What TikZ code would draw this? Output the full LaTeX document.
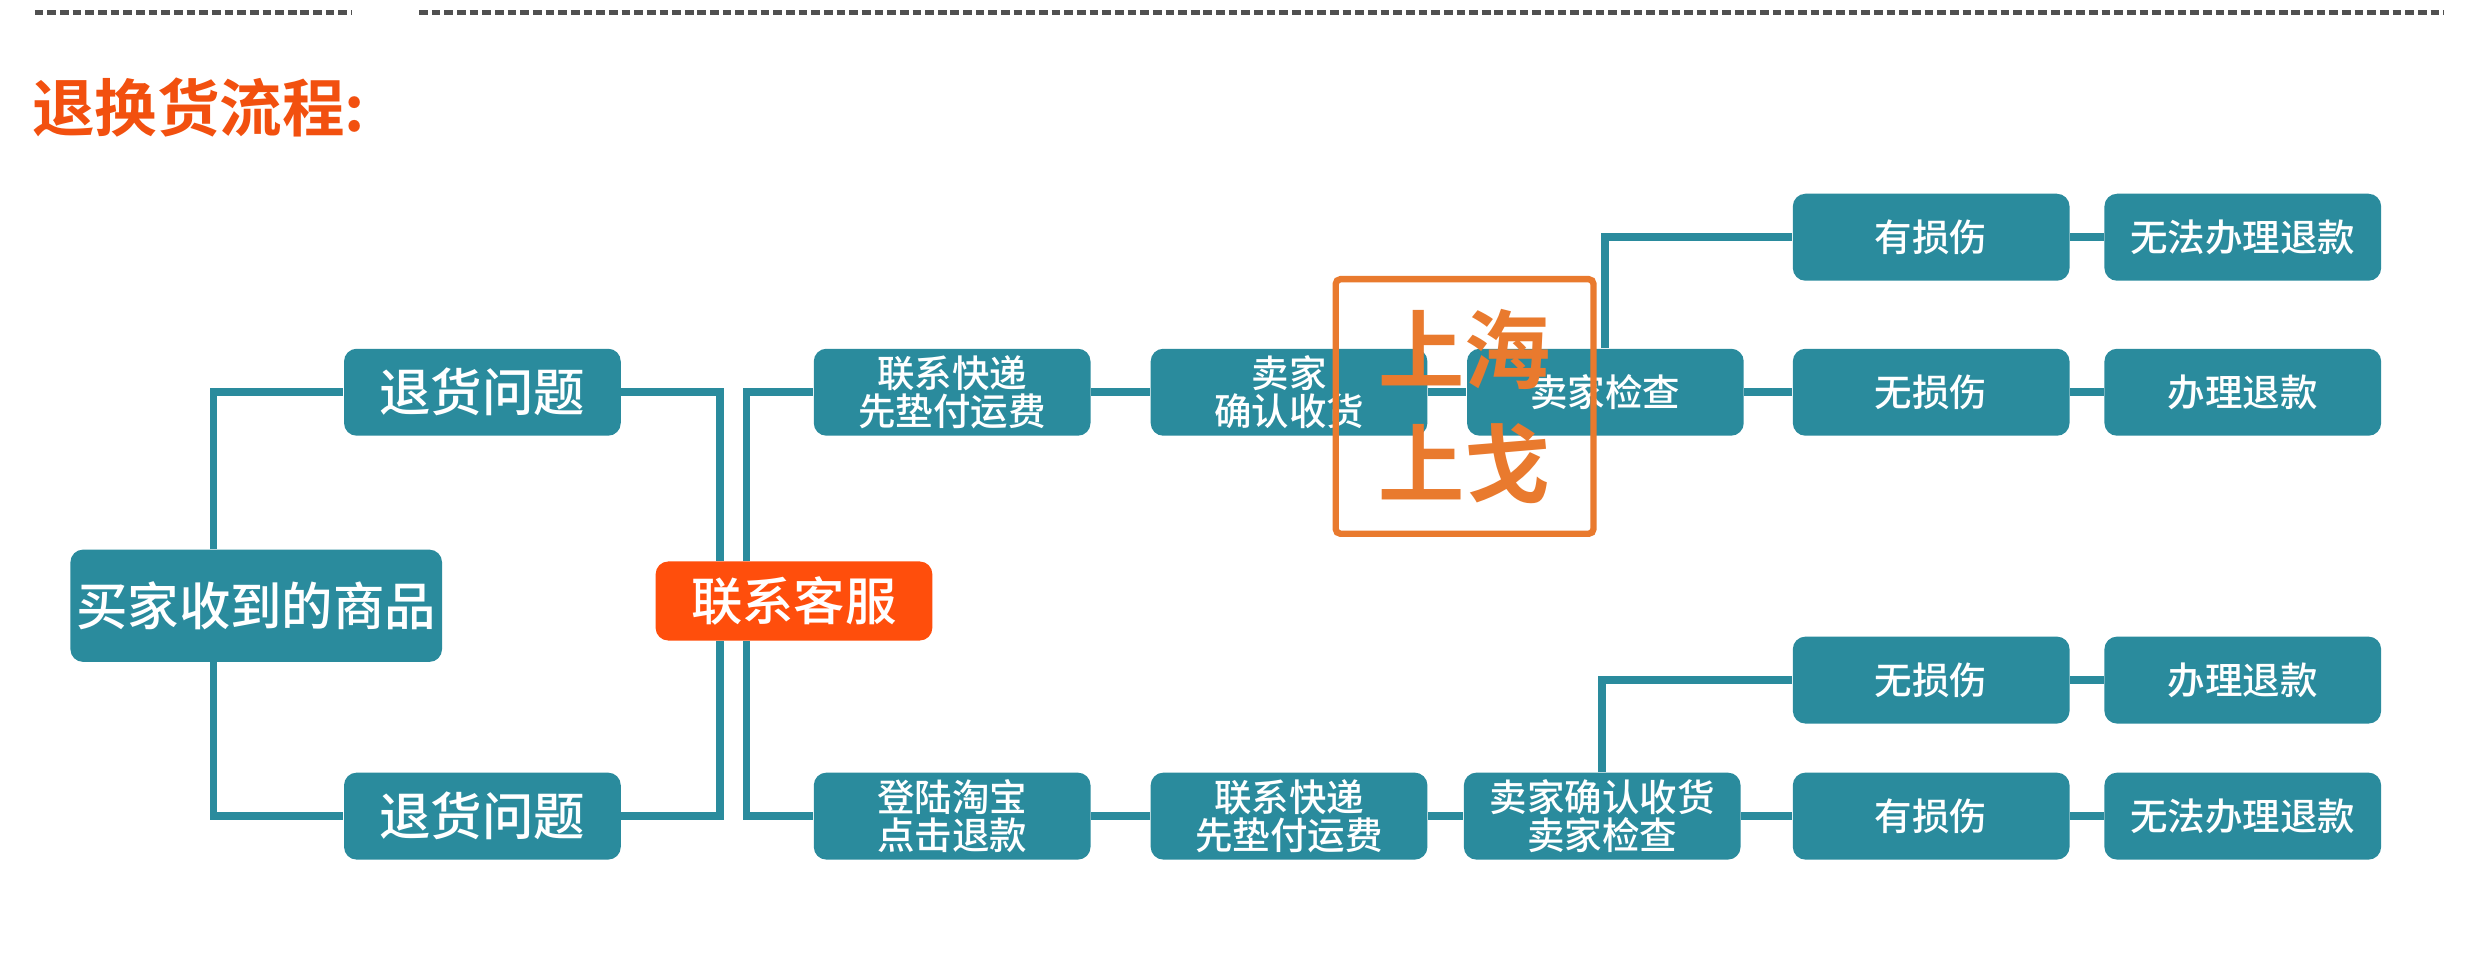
\documentclass[tikz,border=0pt]{standalone}
\usepackage{fontspec}
\setmainfont{Noto Sans CJK SC}[BoldFont={Noto Sans CJK SC Bold}]
\newfontfamily\medcjk{Noto Sans CJK SC Medium}
\definecolor{boxteal}{HTML}{2A8B9D}
\definecolor{svcred}{HTML}{FF4E0C}
\definecolor{titlered}{HTML}{F2500F}
\definecolor{sealor}{HTML}{E97A2E}
\definecolor{dashgray}{HTML}{505050}
\begin{document}
\begin{tikzpicture}[x=0.02cm,y=-0.02cm,
	box/.style={fill=boxteal,text=white,rounded corners=0.16cm,minimum width=3.5cm,minimum height=1.1cm,inner sep=0pt,align=center,font=\medcjk\fontsize{13.5}{13.5}\selectfont},
	bigbox/.style={box,font=\medcjk\fontsize{18.5}{20}\selectfont},
	link/.style={draw=boxteal,line width=2.8pt},
	dashline/.style={draw=dashgray,line width=2pt,dash pattern=on 0.11cm off 0.05cm}]
	\fill[white] (0,0) rectangle (1568,607);
	\draw[dashline] (22,8) -- (222,8);
	\draw[dashline] (265,8) -- (1545,8);
	\node[anchor=west,text=titlered,font=\fontsize{22.5}{24}\selectfont\bfseries,inner sep=0pt] (title) at (20,68) {退换货流程:};
	\node[bigbox,minimum width=4.7cm,minimum height=1.42cm] (buyer) at (162,383) {买家收到的商品};
	\node[bigbox] (retA) at (305,248) {退货问题};
	\node[bigbox] (retB) at (305,516) {退货问题};
	\node[bigbox,fill=svcred,minimum height=1.0cm] (svc) at (502,380) {联系客服};
	\node[box] (expA) at (602,248) {联系快递\\先垫付运费};
	\node[box] (confA) at (815,248) {卖家\\确认收货};
	\node[box] (chkA) at (1015,248) {卖家检查};
	\node[box] (hurtA) at (1221,150) {有损伤};
	\node[box] (failA) at (1418,150) {无法办理退款};
	\node[box] (okA) at (1221,248) {无损伤};
	\node[box] (refA) at (1418,248) {办理退款};
	\node[box] (loginB) at (602,516) {登陆淘宝\\点击退款};
	\node[box] (expB) at (815,516) {联系快递\\先垫付运费};
	\node[box] (chkB) at (1013,516) {卖家确认收货\\卖家检查};
	\node[box] (okB) at (1221,430) {无损伤};
	\node[box] (refB) at (1418,430) {办理退款};
	\node[box] (hurtB) at (1221,516) {有损伤};
	\node[box] (failB) at (1418,516) {无法办理退款};
	\draw[link] (buyer.north -| 135,0) |- (retA.west);
	\draw[link] (buyer.south -| 135,0) |- (retB.west);
	\draw[link] (retA.east) -| (svc.north -| 455,0);
	\draw[link] (retB.east) -| (svc.south -| 455,0);
	\draw[link] (svc.north -| 472,0) |- (expA.west);
	\draw[link] (svc.south -| 472,0) |- (loginB.west);
	\draw[link] (expA) -- (confA);
	\draw[link] (confA) -- (chkA);
	\draw[link] (chkA) -- (okA);
	\draw[link] (okA) -- (refA);
	\draw[link] (chkA.north) |- (hurtA.west);
	\draw[link] (hurtA) -- (failA);
	\draw[link] (loginB) -- (expB);
	\draw[link] (expB) -- (chkB);
	\draw[link] (chkB) -- (hurtB);
	\draw[link] (hurtB) -- (failB);
	\draw[link] (chkB.north) |- (okB.west);
	\draw[link] (okB) -- (refB);
	\node[draw=sealor,line width=2.3pt,rounded corners=0.06cm,text=sealor,minimum width=3.26cm,minimum height=3.22cm,inner sep=0pt,align=center,font=\fontsize{31}{41}\selectfont\bfseries] (seal) at (926,257) {上海\\上戈};
\end{tikzpicture}
\end{document}
